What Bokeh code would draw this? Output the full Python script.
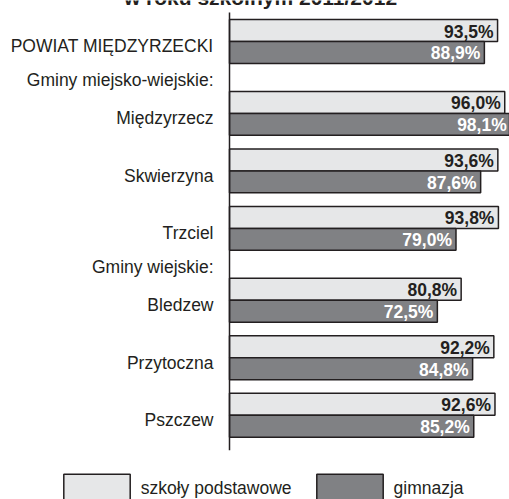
from bokeh.plotting import figure
from bokeh.models import Range1d, Legend, LegendItem, ColumnDataSource
from bokeh.core.properties import value
from bokeh.embed import file_html
from bokeh.resources import INLINE

# ---- data ----
row_labels = ["POWIAT MIĘDZYRZECKI", "Gminy miejsko-wiejskie:", "Międzyrzecz",
              "Skwierzyna", "Trzciel", "Gminy wiejskie:", "Bledzew",
              "Przytoczna", "Pszczew"]
row_is_header = [False, True, False, False, False, True, False, False, False]
podstawowe = [93.5, 96.0, 93.6, 93.8, 80.8, 92.2, 92.6]
gimnazja = [88.9, 98.1, 87.6, 79.0, 72.5, 84.8, 85.2]
series_names = ["szkoły podstawowe", "gimnazja"]
title_text = "w roku szkolnym 2011/2012"

# ---- layout constants ----
W, H = 509, 499
AXIS_X = 229           # px of the value axis (0 %)
FIRST_CENTER_PX = 41   # px of the first group's centre
SLOT = 20              # units between two groups
HEADER_GAP = 5         # extra units taken by a header row
HEADER_POS = 13.5      # header label below the previous group centre
PX_PER_UNIT = 2.875
PX_PER_PCT = 2.867
BAR_H = 7.65
LABEL_SHIFT = 1.7
AXIS_ABOVE = 29        # px the axis line reaches above first group centre
AXIS_BELOW = 35        # px below last group centre

LIGHT = "#e6e7e8"
DARK = "#808184"
INK = "#231f20"
FONT = "Liberation Sans"
FS = "17.5px"

# positions of rows (computed from order)
group_y, lab_y, lab_text = [], [], []
prev = None
pending_header = None
for lab, hdr in zip(row_labels, row_is_header):
    if hdr:
        pending_header = lab
        continue
    pos = 0 if prev is None else prev + SLOT + (HEADER_GAP if pending_header else 0)
    if pending_header:
        lab_y.append(prev + HEADER_POS)
        lab_text.append(pending_header)
        pending_header = None
    group_y.append(pos)
    lab_y.append(pos + LABEL_SHIFT)
    lab_text.append(lab)
    prev = pos

u = lambda px: px / PX_PER_UNIT
x_lo = -AXIS_X / PX_PER_PCT
x_hi = (W - AXIS_X) / PX_PER_PCT
y_top = u(-FIRST_CENTER_PX)
y_bot = y_top + u(H)

p = figure(width=W, height=H, output_backend="svg", toolbar_location=None,
           title=None, x_axis_location=None, y_axis_location=None,
           x_range=Range1d(x_lo, x_hi), y_range=Range1d(y_bot, y_top),
           min_border=0)
p.styles = {"position": "absolute", "left": "0px", "top": "0px"}
p.outline_line_color = None
p.xgrid.visible = False
p.ygrid.visible = False

fmt = lambda v: f"{v:.1f}".replace(".", ",") + "%"

src_a = ColumnDataSource(dict(y=[g - BAR_H / 2 for g in group_y], v=podstawowe,
                              t=[fmt(v) for v in podstawowe]))
src_b = ColumnDataSource(dict(y=[g + BAR_H / 2 for g in group_y], v=gimnazja,
                              t=[fmt(v) for v in gimnazja]))

ra = p.hbar(y="y", left=0, right="v", height=BAR_H, source=src_a,
            fill_color=LIGHT, line_color=INK, line_width=1.5)
rb = p.hbar(y="y", left=0, right="v", height=BAR_H, source=src_b,
            fill_color=DARK, line_color=INK, line_width=1.5)

# value axis line
p.segment(x0=[0], x1=[0], y0=[group_y[0] - u(AXIS_ABOVE)],
          y1=[group_y[-1] + u(AXIS_BELOW)], line_color=INK, line_width=1.5)

for src, col in ((src_a, INK), (src_b, "white")):
    p.text(x="v", y="y", text="t", source=src, x_offset=-4, y_offset=1,
           text_align="right", text_baseline="middle", text_color=col,
           text_font=value(FONT), text_font_size=FS,
           text_font_style="bold")

# category labels
p.text(x=[0] * len(lab_y), y=lab_y, text=lab_text, x_offset=-16,
       text_align="right", text_baseline="middle", text_color=INK,
       text_font=value(FONT), text_font_size=FS)

# title (cut off by the top edge, as in the source)
p.text(x=[(260 - AXIS_X) / PX_PER_PCT], y=[y_top], text=[title_text],
       y_offset=-3, text_align="center", text_baseline="alphabetic",
       text_color=INK, text_font=value(FONT), text_font_size="21px",
       text_font_style="bold")

legend = Legend(items=[LegendItem(label=series_names[0], renderers=[ra]),
                       LegendItem(label=series_names[1], renderers=[rb])],
                orientation="horizontal", location=(54.75, -8.75),
                glyph_width=83, glyph_height=38, label_standoff=3, spacing=16,
                padding=0, margin=0, border_line_color=None,
                background_fill_alpha=0, label_text_font=FONT,
                label_text_font_size=FS, label_text_color=INK)
p.add_layout(legend, "center")

open("out.html", "w").write(file_html(p, INLINE))
